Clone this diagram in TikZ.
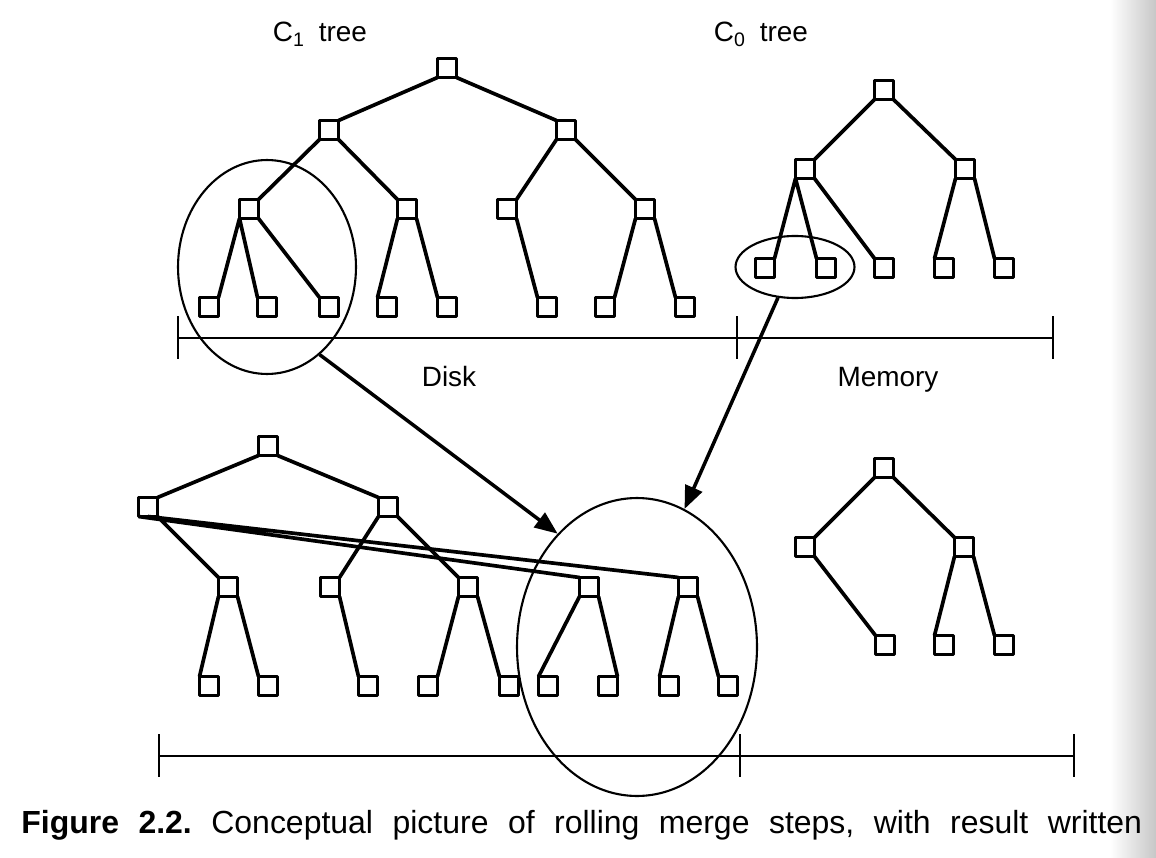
\documentclass[tikz,border=0pt]{standalone}
\usepackage{fontspec}
\setmainfont{Liberation Sans}
\usetikzlibrary{arrows.meta,shapes.geometric}
\tikzset{
  blk/.style={draw,fill=white,line width=1.5pt,minimum size=0.38cm,inner sep=0pt,outer sep=0pt},
  br/.style={line width=2.1pt},
  rim/.style={draw,ellipse,line width=1.2pt,inner sep=0pt},
  mv/.style={line width=2pt,-{Triangle[length=0.46cm,width=0.36cm]}},
  lbl/.style={font=\fontsize{15.9}{19}\selectfont,anchor=base,inner sep=0pt},
  axle/.style={line width=1.2pt}
}
\begin{document}
\frenchspacing
\begin{tikzpicture}[x=0.02cm,y=-0.02cm,line join=round]
\useasboundingbox (0,0) rectangle (1156,858);
\shade[left color=white,right color=black!22] (1110,0) rectangle (1156,858);
\node[lbl] (lc1) at (320,42) {C\textsubscript{1}\enspace tree};
\node[lbl] (lc0) at (761,42) {C\textsubscript{0}\enspace tree};
\node[lbl] (ldisk) at (449,386) {Disk};
\node[lbl] (lmem) at (888,386) {Memory};
\node[anchor=base west,inner sep=0pt,font=\fontsize{18.2}{22}\selectfont] (cap) at (21,833) {\makebox[22.42cm][s]{\textbf{Figure 2.2.} Conceptual picture of rolling merge steps, with result written}};
\node[blk] (c1r) at (447,68) {};
\node[blk] (c1a) at (329,130) {};
\node[blk] (c1b) at (566,130) {};
\node[blk] (c1aa) at (249,209) {};
\node[blk] (c1ab) at (407,209) {};
\node[blk] (c1ba) at (507,209) {};
\node[blk] (c1bb) at (645,209) {};
\node[blk] (c1aa1) at (209,307) {};
\node[blk] (c1aa2) at (267,307) {};
\node[blk] (c1aa3) at (329,307) {};
\node[blk] (c1ab1) at (387,307) {};
\node[blk] (c1ab2) at (447,307) {};
\node[blk] (c1ba1) at (547,307) {};
\node[blk] (c1bb1) at (605,307) {};
\node[blk] (c1bb2) at (685,307) {};
\draw[br] (c1r.south west)--(c1a.north east) (c1r.south east)--(c1b.north west);
\draw[br] (c1a.south west)--(c1aa.north east) (c1a.south east)--(c1ab.north west) (c1b.south west)--(c1ba.north east) (c1b.south east)--(c1bb.north west);
\draw[br] (c1aa.south west)--(c1aa1.north east) (c1aa.south west)--(c1aa2.north west) (c1aa.south east)--(c1aa3.north west);
\draw[br] (c1ab.south west)--(c1ab1.north west) (c1ab.south east)--(c1ab2.north west);
\draw[br] (c1ba.south east)--(c1ba1.north west) (c1bb.south west)--(c1bb1.north east) (c1bb.south east)--(c1bb2.north west);
\node[blk] (c0r) at (884,90) {};
\node[blk] (c0a) at (805,169) {};
\node[blk] (c0b) at (965,169) {};
\node[blk] (c0a1) at (765,268) {};
\node[blk] (c0a2) at (826,268) {};
\node[blk] (c0a3) at (884,268) {};
\node[blk] (c0b1) at (944,268) {};
\node[blk] (c0b2) at (1004,268) {};
\draw[br] (c0r.south west)--(c0a.north east) (c0r.south east)--(c0b.north west);
\draw[br] (c0a.south west)--(c0a1.north east) (c0a.south west)--(c0a2.north west) (c0a.south east)--(c0a3.north west);
\draw[br] (c0b.south west)--(c0b1.north west) (c0b.south east)--(c0b2.north west);
\node[blk] (n1r) at (268,446) {};
\node[blk] (n1a) at (148,507) {};
\node[blk] (n1b) at (388,507) {};
\node[blk] (n1aa) at (228,587) {};
\node[blk] (n1ab) at (589,587) {};
\node[blk] (n1ac) at (688,587) {};
\node[blk] (n1ba) at (330,587) {};
\node[blk] (n1bb) at (468,587) {};
\node[blk] (n1aa1) at (209,686) {};
\node[blk] (n1aa2) at (268,686) {};
\node[blk] (n1ba1) at (368,686) {};
\node[blk] (n1bb1) at (428,686) {};
\node[blk] (n1bb2) at (509,686) {};
\node[blk] (n1ab1) at (548,686) {};
\node[blk] (n1ab2) at (608,686) {};
\node[blk] (n1ac1) at (669,686) {};
\node[blk] (n1ac2) at (728,686) {};
\draw[br] (n1r.south west)--(n1a.north east) (n1r.south east)--(n1b.north west);
\draw[br] (n1a.south east)--(n1aa.north west) (n1a.south west)--(n1ab.north west) (n1a.south)--(n1ac.north west);
\draw[br] (n1b.south west)--(n1ba.north east) (n1b.south east)--(n1bb.north west);
\draw[br] (n1aa.south west)--(n1aa1.north west) (n1aa.south east)--(n1aa2.north west) (n1ba.south east)--(n1ba1.north west);
\draw[br] (n1bb.south west)--(n1bb1.north east) (n1bb.south east)--(n1bb2.north west);
\draw[br] (n1ab.south west)--(n1ab1.north west) (n1ab.south east)--(n1ab2.north east);
\draw[br] (n1ac.south west)--(n1ac1.north west) (n1ac.south east)--(n1ac2.north west);
\node[blk] (n0r) at (884,468) {};
\node[blk] (n0a) at (805,547) {};
\node[blk] (n0b) at (964,547) {};
\node[blk] (n0a1) at (885,645) {};
\node[blk] (n0b1) at (944,645) {};
\node[blk] (n0b2) at (1004,645) {};
\draw[br] (n0r.south west)--(n0a.north east) (n0r.south east)--(n0b.north west) (n0a.south east)--(n0a1.north west);
\draw[br] (n0b.south west)--(n0b1.north west) (n0b.south east)--(n0b2.north west);
\draw[axle] (178,338)--(1053,338) (178,316)--(178,359) (737,316)--(737,359) (1053,316)--(1053,359);
\draw[axle] (159,756)--(1074,756) (159,734)--(159,777) (740,734)--(740,777) (1074,734)--(1074,777);
\node[rim,minimum width=3.56cm,minimum height=4.28cm] (e1) at (267,267) {};
\node[rim,minimum width=2.38cm,minimum height=1.24cm] (e2) at (795,267) {};
\node[rim,minimum width=4.8cm,minimum height=5.96cm] (e3) at (637,647) {};
\draw[mv] (e1.-59)--(e3.125);
\draw[mv] (e2.241)--(e3.71);
\end{tikzpicture}
\end{document}
